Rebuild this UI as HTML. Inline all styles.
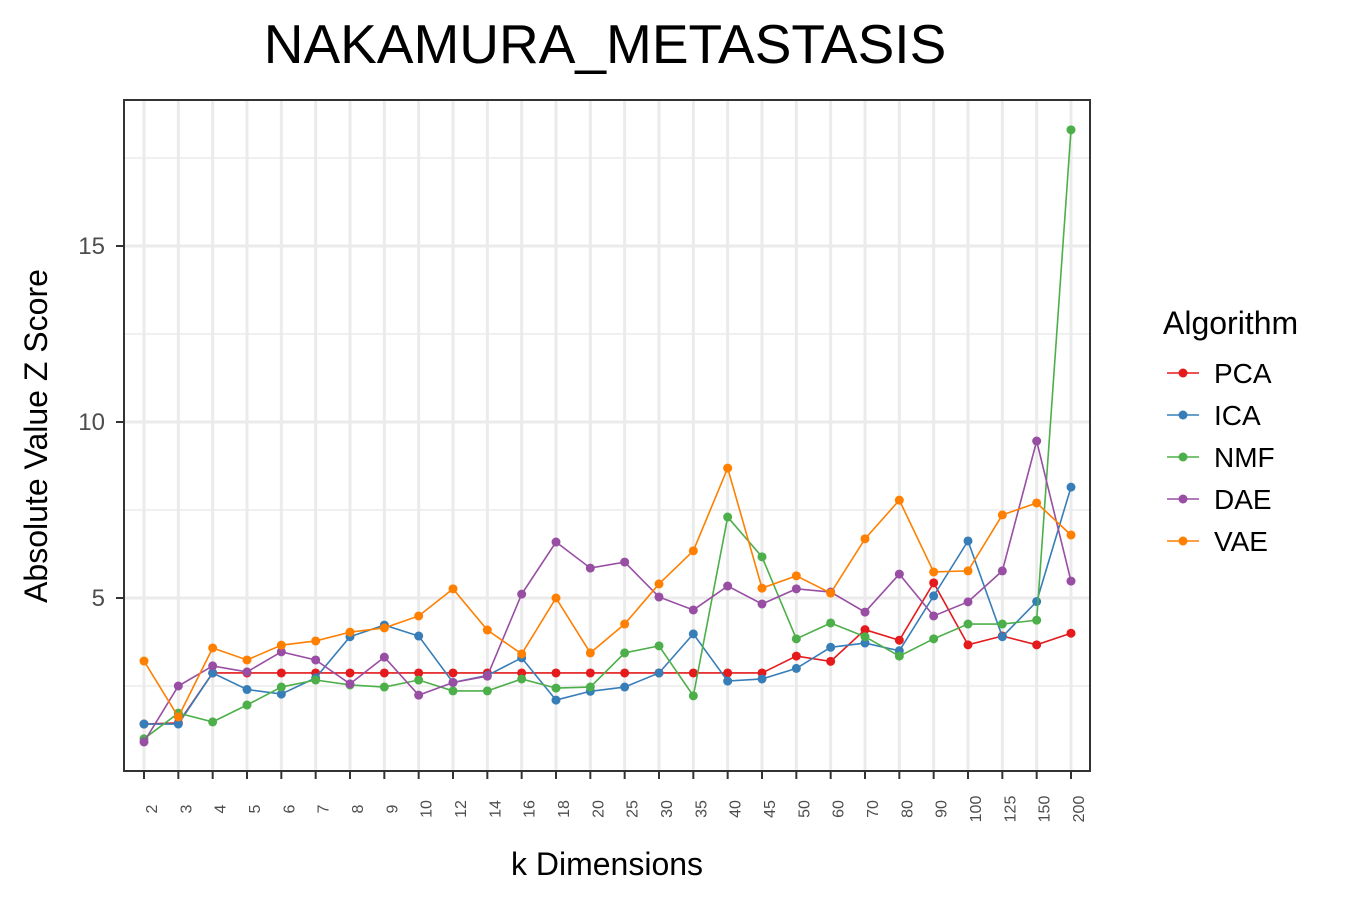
<!DOCTYPE html>
<html><head><meta charset="utf-8"><style>
body{margin:0;background:#fff;}
svg{display:block;font-family:"Liberation Sans",Arial,sans-serif;}
</style></head><body>
<svg id="chart" width="1350" height="900">
<text x="605" y="63" font-size="55" text-anchor="middle" fill="#000">NAKAMURA_METASTASIS</text>
<g id="grid"></g>
<g id="series"></g>
<rect x="124" y="100" width="966" height="671" fill="none" stroke="#333" stroke-width="2"/>
<g id="axes"></g>
<text transform="translate(47,436) rotate(-90)" font-size="32" text-anchor="middle">Absolute Value Z Score</text>
<text x="607" y="875" font-size="32" text-anchor="middle">k Dimensions</text>
<g id="legend">
<text x="1163" y="334" font-size="32">Algorithm</text>
</g>
</svg>
<script>
const categories=["2","3","4","5","6","7","8","9","10","12","14","16","18","20","25","30","35","40","45","50","60","70","80","90","100","125","150","200"];
const pcaValues=[1.42,1.45,2.87,2.87,2.87,2.87,2.87,2.87,2.87,2.87,2.87,2.87,2.87,2.87,2.87,2.87,2.87,2.87,2.87,3.35,3.2,4.1,3.8,5.43,3.67,3.92,3.67,4.0];
const icaValues=[1.42,1.42,2.87,2.4,2.27,2.73,3.9,4.23,3.92,2.6,2.8,3.3,2.1,2.35,2.47,2.87,3.98,2.64,2.7,3.0,3.6,3.72,3.5,5.06,6.62,3.9,4.9,8.15];
const nmfValues=[1.0,1.73,1.48,1.96,2.47,2.67,2.53,2.47,2.67,2.36,2.36,2.7,2.44,2.47,3.44,3.64,2.22,7.3,6.17,3.84,4.29,3.9,3.35,3.84,4.26,4.26,4.37,18.3];
const daeValues=[0.91,2.5,3.07,2.9,3.47,3.24,2.56,3.32,2.24,2.6,2.78,5.11,6.59,5.85,6.02,5.03,4.66,5.34,4.83,5.26,5.17,4.6,5.68,4.49,4.89,5.77,9.46,5.48];
const vaeValues=[3.21,1.62,3.58,3.24,3.66,3.78,4.03,4.15,4.49,5.26,4.09,3.41,5.0,3.44,4.26,5.4,6.34,8.69,5.28,5.63,5.14,6.68,7.78,5.74,5.77,7.36,7.7,6.79];
const seriesNames=["PCA","ICA","NMF","DAE","VAE"];
const seriesColors=["#e41a1c","#377eb8","#4daf4a","#984ea3","#ff7f00"];
const yMajorTicks=[5,10,15];
const yMinorTicks=[2.5,7.5,12.5,17.5];

const NS="http://www.w3.org/2000/svg";
const x0=144,x1=1071,px0=124,px1=1090,py0=100,py1=771;
function xs(i){return x0+(x1-x0)*i/(categories.length-1);}
function ys(v){return 774-v*35.2;}
function mk(tag,attrs,parent){const e=document.createElementNS(NS,tag);for(const k in attrs)e.setAttribute(k,attrs[k]);parent.appendChild(e);return e;}
const grid=document.getElementById('grid'),axes=document.getElementById('axes'),ser=document.getElementById('series'),leg=document.getElementById('legend');
yMinorTicks.forEach(v=>{const y=ys(v);if(y<py0)return;const l=mk('line',{x1:px0,x2:px1,y1:y,y2:y,stroke:'#ebebeb','stroke-width':1.5},grid);

});
yMajorTicks.forEach(v=>{const y=ys(v);const l=mk('line',{x1:px0,x2:px1,y1:y,y2:y,stroke:'#ebebeb','stroke-width':3},grid);


const t=mk('line',{x1:116,x2:124,y1:y,y2:y,stroke:'#333','stroke-width':2},axes);


const tx=mk('text',{x:105,y:y+8,'font-size':24,'text-anchor':'end',fill:'#4d4d4d'},axes);tx.textContent=v;

});
categories.forEach((c,i)=>{const x=xs(i);const l=mk('line',{x1:x,x2:x,y1:py0,y2:py1,stroke:'#ebebeb','stroke-width':3},grid);


const t=mk('line',{x1:x,x2:x,y1:771,y2:779,stroke:'#333','stroke-width':2},axes);


const tx=mk('text',{transform:`translate(${x+13},809) rotate(-90)`,'font-size':16,'text-anchor':'middle',fill:'#4d4d4d'},axes);tx.textContent=c;

});
const allValues=[pcaValues,icaValues,nmfValues,daeValues,vaeValues];
allValues.forEach((vals,s)=>{const g=mk('g',{},ser);


const pts=vals.map((v,i)=>xs(i)+','+ys(v)).join(' ');
const pl=mk('polyline',{points:pts,fill:'none',stroke:seriesColors[s],'stroke-width':1.6},g);


vals.forEach((v,i)=>{const c=mk('circle',{cx:xs(i),cy:ys(v),r:4.5,fill:seriesColors[s]},g);

});
const ly=373+42*s;
const lg=mk('g',{},leg);


mk('line',{x1:1167,x2:1199,y1:ly,y2:ly,stroke:seriesColors[s],'stroke-width':1.6},lg);
mk('circle',{cx:1183,cy:ly,r:4.5,fill:seriesColors[s]},lg);
const lt=mk('text',{x:1214,y:ly+10,'font-size':28},lg);lt.textContent=seriesNames[s];});
</script>
</body></html>
